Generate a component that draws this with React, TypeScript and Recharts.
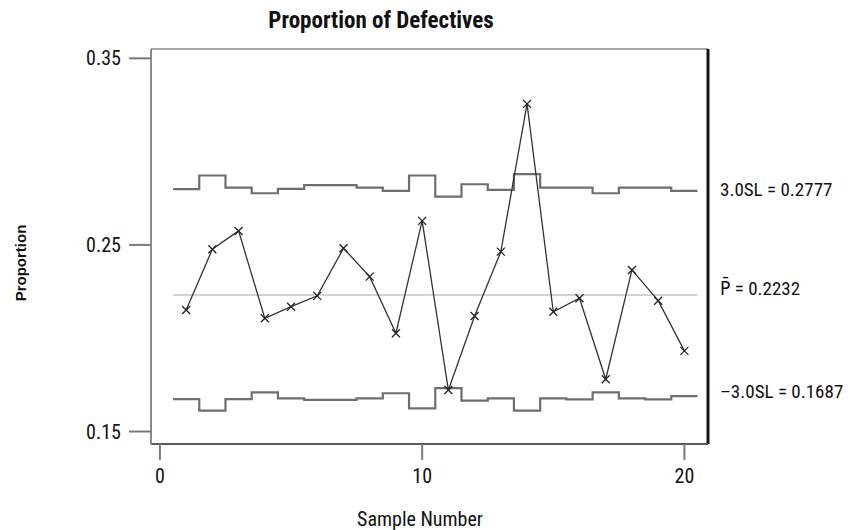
import { LineChart, Line, XAxis, YAxis, ReferenceLine } from "recharts";

// p-chart: proportion of defectives per sample, with 3-sigma limits
const samples = [1, 2, 3, 4, 5, 6, 7, 8, 9, 10, 11, 12, 13, 14, 15, 16, 17, 18, 19, 20];
const proportion = [
  0.2151, 0.2477, 0.2575, 0.2107, 0.2169, 0.2227, 0.2482, 0.233, 0.2027, 0.2629,
  0.1722, 0.2119, 0.2464, 0.3256, 0.2142, 0.2214, 0.178, 0.2366, 0.2201, 0.1932,
];
const upperLimit = [
  0.2799, 0.2872, 0.2807, 0.2777, 0.28, 0.282, 0.282, 0.2807, 0.279, 0.2872,
  0.2759, 0.2825, 0.2795, 0.2879, 0.2807, 0.2807, 0.2777, 0.2807, 0.2807, 0.279,
];
const lowerLimit = [
  0.1674, 0.1612, 0.1674, 0.171, 0.1678, 0.1669, 0.1669, 0.1678, 0.1705, 0.1624,
  0.1732, 0.1665, 0.1678, 0.1612, 0.1678, 0.1672, 0.171, 0.1678, 0.1672, 0.169,
];
const centerLine = 0.2232;
const xTicks = [0, 10, 20];
const yTicks = [0.15, 0.25, 0.35];
const limitLabels = ["3.0SL = 0.2777", "P\u0304 = 0.2232", "\u20133.0SL = 0.1687"];

const xDomain = [-0.34, 20.9];
const yDomain = [0.1433, 0.355];

type Row = { x: number; p?: number; ucl?: number; lcl?: number; cl?: number };

// limits are steps centred on each sample, so they change at the half points
const rows: Row[] = [];
samples.forEach((s, i) => {
  rows.push({ x: s - 0.5, ucl: upperLimit[i], lcl: lowerLimit[i], cl: i === 0 ? centerLine : undefined });
  rows.push({ x: s, p: proportion[i] });
});
const last = samples.length - 1;
rows.push({ x: samples[last] + 0.5, ucl: upperLimit[last], lcl: lowerLimit[last], cl: centerLine });

const font = "'Liberation Sans Narrow', 'Roboto Condensed', 'DejaVu Sans Condensed', Arial, sans-serif";

const Cross = (props: any) => {
  const { cx, cy, index } = props;
  if (cx == null || cy == null) return <g key={index} />;
  const s = 4;
  return (
    <path
      key={index}
      d={`M${cx - s},${cy - s}L${cx + s},${cy + s}M${cx + s},${cy - s}L${cx - s},${cy + s}`}
      stroke="#222"
      strokeWidth={1.3}
      fill="none"
    />
  );
};

export default function App() {
  const tickStyle = { fontSize: 20, fill: "#111", fontFamily: font };
  return (
    <div style={{ position: "absolute", left: 0, top: 0, width: 848, height: 530, background: "#fff" }}>
      <LineChart width={848} height={530} data={rows} margin={{ top: 49, right: 140, bottom: 0, left: 0 }}>
        <XAxis
          dataKey="x"
          type="number"
          domain={xDomain}
          allowDataOverflow
          ticks={xTicks}
          height={86}
          tickSize={16}
          tickMargin={9}
          tick={tickStyle}
          axisLine={{ stroke: "#5a5a5a", strokeWidth: 2 }}
          tickLine={{ stroke: "#7a7a7a", strokeWidth: 2 }}
        />
        <YAxis
          domain={yDomain}
          allowDataOverflow
          ticks={yTicks}
          tickFormatter={(v: number) => v.toFixed(2)}
          width={151}
          tickSize={22}
          tickMargin={8}
          tick={tickStyle}
          axisLine={{ stroke: "#8a8a8a", strokeWidth: 2 }}
          tickLine={{ stroke: "#7a7a7a", strokeWidth: 2 }}
        />
        {/* frame: top edge light, right edge dark and heavy */}
        <ReferenceLine y={yDomain[1]} stroke="#8a8a8a" strokeWidth={1.5} ifOverflow="visible" />
        <ReferenceLine x={xDomain[1]} stroke="#151515" strokeWidth={3} ifOverflow="visible" />
        <Line dataKey="cl" stroke="#c4c4c4" strokeWidth={1.5} dot={false} connectNulls isAnimationActive={false} />
        <Line type="stepAfter" dataKey="ucl" stroke="#6e6e6e" strokeWidth={2.2} dot={false} connectNulls isAnimationActive={false} />
        <Line type="stepAfter" dataKey="lcl" stroke="#6e6e6e" strokeWidth={2.2} dot={false} connectNulls isAnimationActive={false} />
        <Line dataKey="p" stroke="#333" strokeWidth={1.3} dot={Cross} connectNulls isAnimationActive={false} />
      </LineChart>

      <div style={{ position: "absolute", left: 0, top: 7, width: 762, textAlign: "center", fontFamily: font, fontWeight: 700, fontSize: 23, lineHeight: "28px", color: "#111" }}>
        Proportion of Defectives
      </div>
      <div style={{ position: "absolute", left: 220, top: 509, width: 400, textAlign: "center", fontFamily: font, fontSize: 20, lineHeight: "20px", color: "#111" }}>
        Sample Number
      </div>
      <div
        style={{
          position: "absolute",
          left: 21 - 50,
          top: 263 - 10,
          width: 100,
          height: 20,
          textAlign: "center",
          transform: "rotate(-90deg)",
          fontFamily: "'Liberation Sans', Arial, sans-serif",
          fontWeight: 700,
          fontSize: 15,
          lineHeight: "20px",
          color: "#111",
        }}
      >
        Proportion
      </div>
      {limitLabels.map((t, i) => (
        <div
          key={t}
          style={{ position: "absolute", left: 720, top: [179, 278, 381][i], fontFamily: font, fontSize: 19, lineHeight: "22px", color: "#111", whiteSpace: "nowrap" }}
        >
          {t}
        </div>
      ))}
    </div>
  );
}
